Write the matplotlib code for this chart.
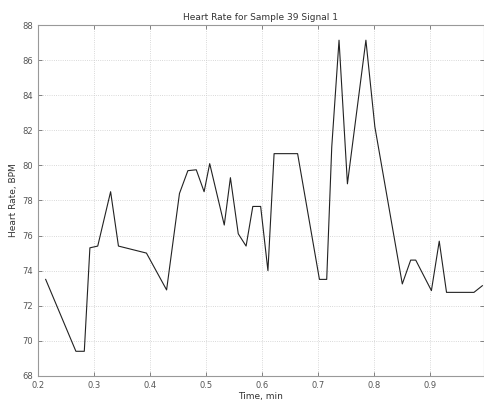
import numpy as np
import matplotlib
matplotlib.use('Agg')
import matplotlib.pyplot as plt

# time (min) and heart rate (BPM)
time_min = [0.214, 0.268, 0.283, 0.293, 0.307, 0.330, 0.344, 0.394, 0.430,
            0.453, 0.468, 0.483, 0.497, 0.507, 0.533, 0.544, 0.558, 0.572,
            0.584, 0.598, 0.611, 0.622, 0.664, 0.703, 0.716, 0.725, 0.738,
            0.753, 0.786, 0.802, 0.851, 0.866, 0.875, 0.903, 0.917, 0.930,
            0.979, 0.994]
heart_bpm = [73.5, 69.4, 69.4, 75.3, 75.4, 78.5, 75.4, 75.0, 72.9,
             78.4, 79.7, 79.75, 78.5, 80.1, 76.6, 79.3, 76.1, 75.4,
             77.66, 77.66, 74.0, 80.67, 80.67, 73.5, 73.5, 81.05, 87.14,
             78.95, 87.14, 82.2, 73.24, 74.6, 74.6, 72.86, 75.68, 72.76,
             72.76, 73.14]
xticks = [0.2, 0.3, 0.4, 0.5, 0.6, 0.7, 0.8, 0.9]
yticks = np.arange(68, 89, 2)

fig = plt.figure(figsize=(4.85, 4.05), dpi=100)
ax = fig.add_axes([0.078, 0.072, 0.920, 0.866])
ax.plot(time_min, heart_bpm, color='#222222', lw=0.8)
ax.set_xlim(0.2, 0.997)
ax.set_ylim(68, 88)
ax.set_xticks(xticks)
ax.set_yticks(yticks)
ax.tick_params(direction='in', labelsize=6, length=3, width=0.5,
               top=True, right=True, colors='#555555')
ax.grid(True, color='#cccccc', ls=':', lw=0.6)
for s in ax.spines.values():
    s.set_color('#999999')
    s.set_linewidth(0.8)
ax.set_title('Heart Rate for Sample 39 Signal 1', fontsize=6.5, color='#333333', pad=4)
ax.set_xlabel('Time, min', fontsize=6.5, color='#333333', labelpad=2)
ax.set_ylabel('Heart Rate, BPM', fontsize=6.5, color='#333333', labelpad=3)

fig.savefig('out.png', dpi=100)
